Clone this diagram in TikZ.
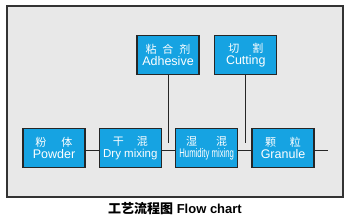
\documentclass[tikz,border=0pt]{standalone}
\usepackage{fontspec}
\setmainfont{Liberation Sans}
\newfontfamily\cjk{Noto Sans CJK SC}
\usetikzlibrary{positioning}
\usepackage{xcolor}
\definecolor{procblue}{RGB}{22,163,226}
\definecolor{panelgray}{RGB}{232,232,232}
\tikzset{
  proc/.style  = {draw=black!85, line width=1.1pt, fill=procblue, text=white, align=center,
                  minimum width=62pt, minimum height=39.5pt, inner sep=0pt,
                  font=\fontsize{12.5}{12.5}\selectfont},
  link/.style  = {line width=1pt, draw=black!85},
  panel/.style = {line width=1.3pt, draw=black!80, fill=panelgray}
}

\begin{document}
\begin{tikzpicture}[x=1pt, y=-1pt]
\useasboundingbox (0,0) rectangle (350,220);
\draw[panel] (7,6) rectangle (343,197);

% main row
\node[proc] at (54,148)    (powder)  {{\cjk\fontsize{11}{12.5}\selectfont 粉\hspace{15pt}体}\\Powder};
\node[proc] at (130.3,148) (drymix)  {{\cjk\fontsize{11}{12.5}\selectfont 干\hspace{13pt}混}\\{\fontsize{11.5}{12.5}\selectfont Dry mixing}};
\node[proc] at (206.7,148) (wetmix)  {{\cjk\fontsize{11}{12.5}\selectfont 湿\hspace{19pt}混}\\\scalebox{0.62}[1]{Humidity mixing}};
\node[proc] at (283,148)   (granule) {{\cjk\fontsize{11}{12.5}\selectfont 颗\hspace{14pt}粒}\\Granule};

% feeds from above
\node[proc] at (168,55)    (adhesive) {{\cjk\fontsize{11}{12.5}\selectfont 粘\hspace{6pt}合\hspace{6pt}剂}\\Adhesive};
\node[proc] at (245.8,55)  (cutting)  {{\cjk\fontsize{11}{12.5}\selectfont 切\hspace{13pt}割}\\Cutting};

\coordinate (adhesiveend) at (168,143);
\coordinate (cuttingend)  at (245.8,143);
\coordinate (lineend)     at (327.7,150.5);

\draw[link] ([yshift=-2.5pt]powder.east) -- ([yshift=-2.5pt]drymix.west);
\draw[link] ([yshift=-2.5pt]drymix.east) -- ([yshift=-2.5pt]wetmix.west);
\draw[link] ([yshift=-2.5pt]wetmix.east) -- ([yshift=-2.5pt]granule.west);
\draw[link] ([yshift=-2.5pt]granule.east) -- (lineend);
\draw[link] (adhesive) -- (adhesiveend);
\draw[link] (cutting) -- (cuttingend);

\node[font=\bfseries\fontsize{13}{13}\selectfont] at (175,209) (caption) {{\cjk\bfseries 工艺流程图} Flow chart};
\end{tikzpicture}
\end{document}
